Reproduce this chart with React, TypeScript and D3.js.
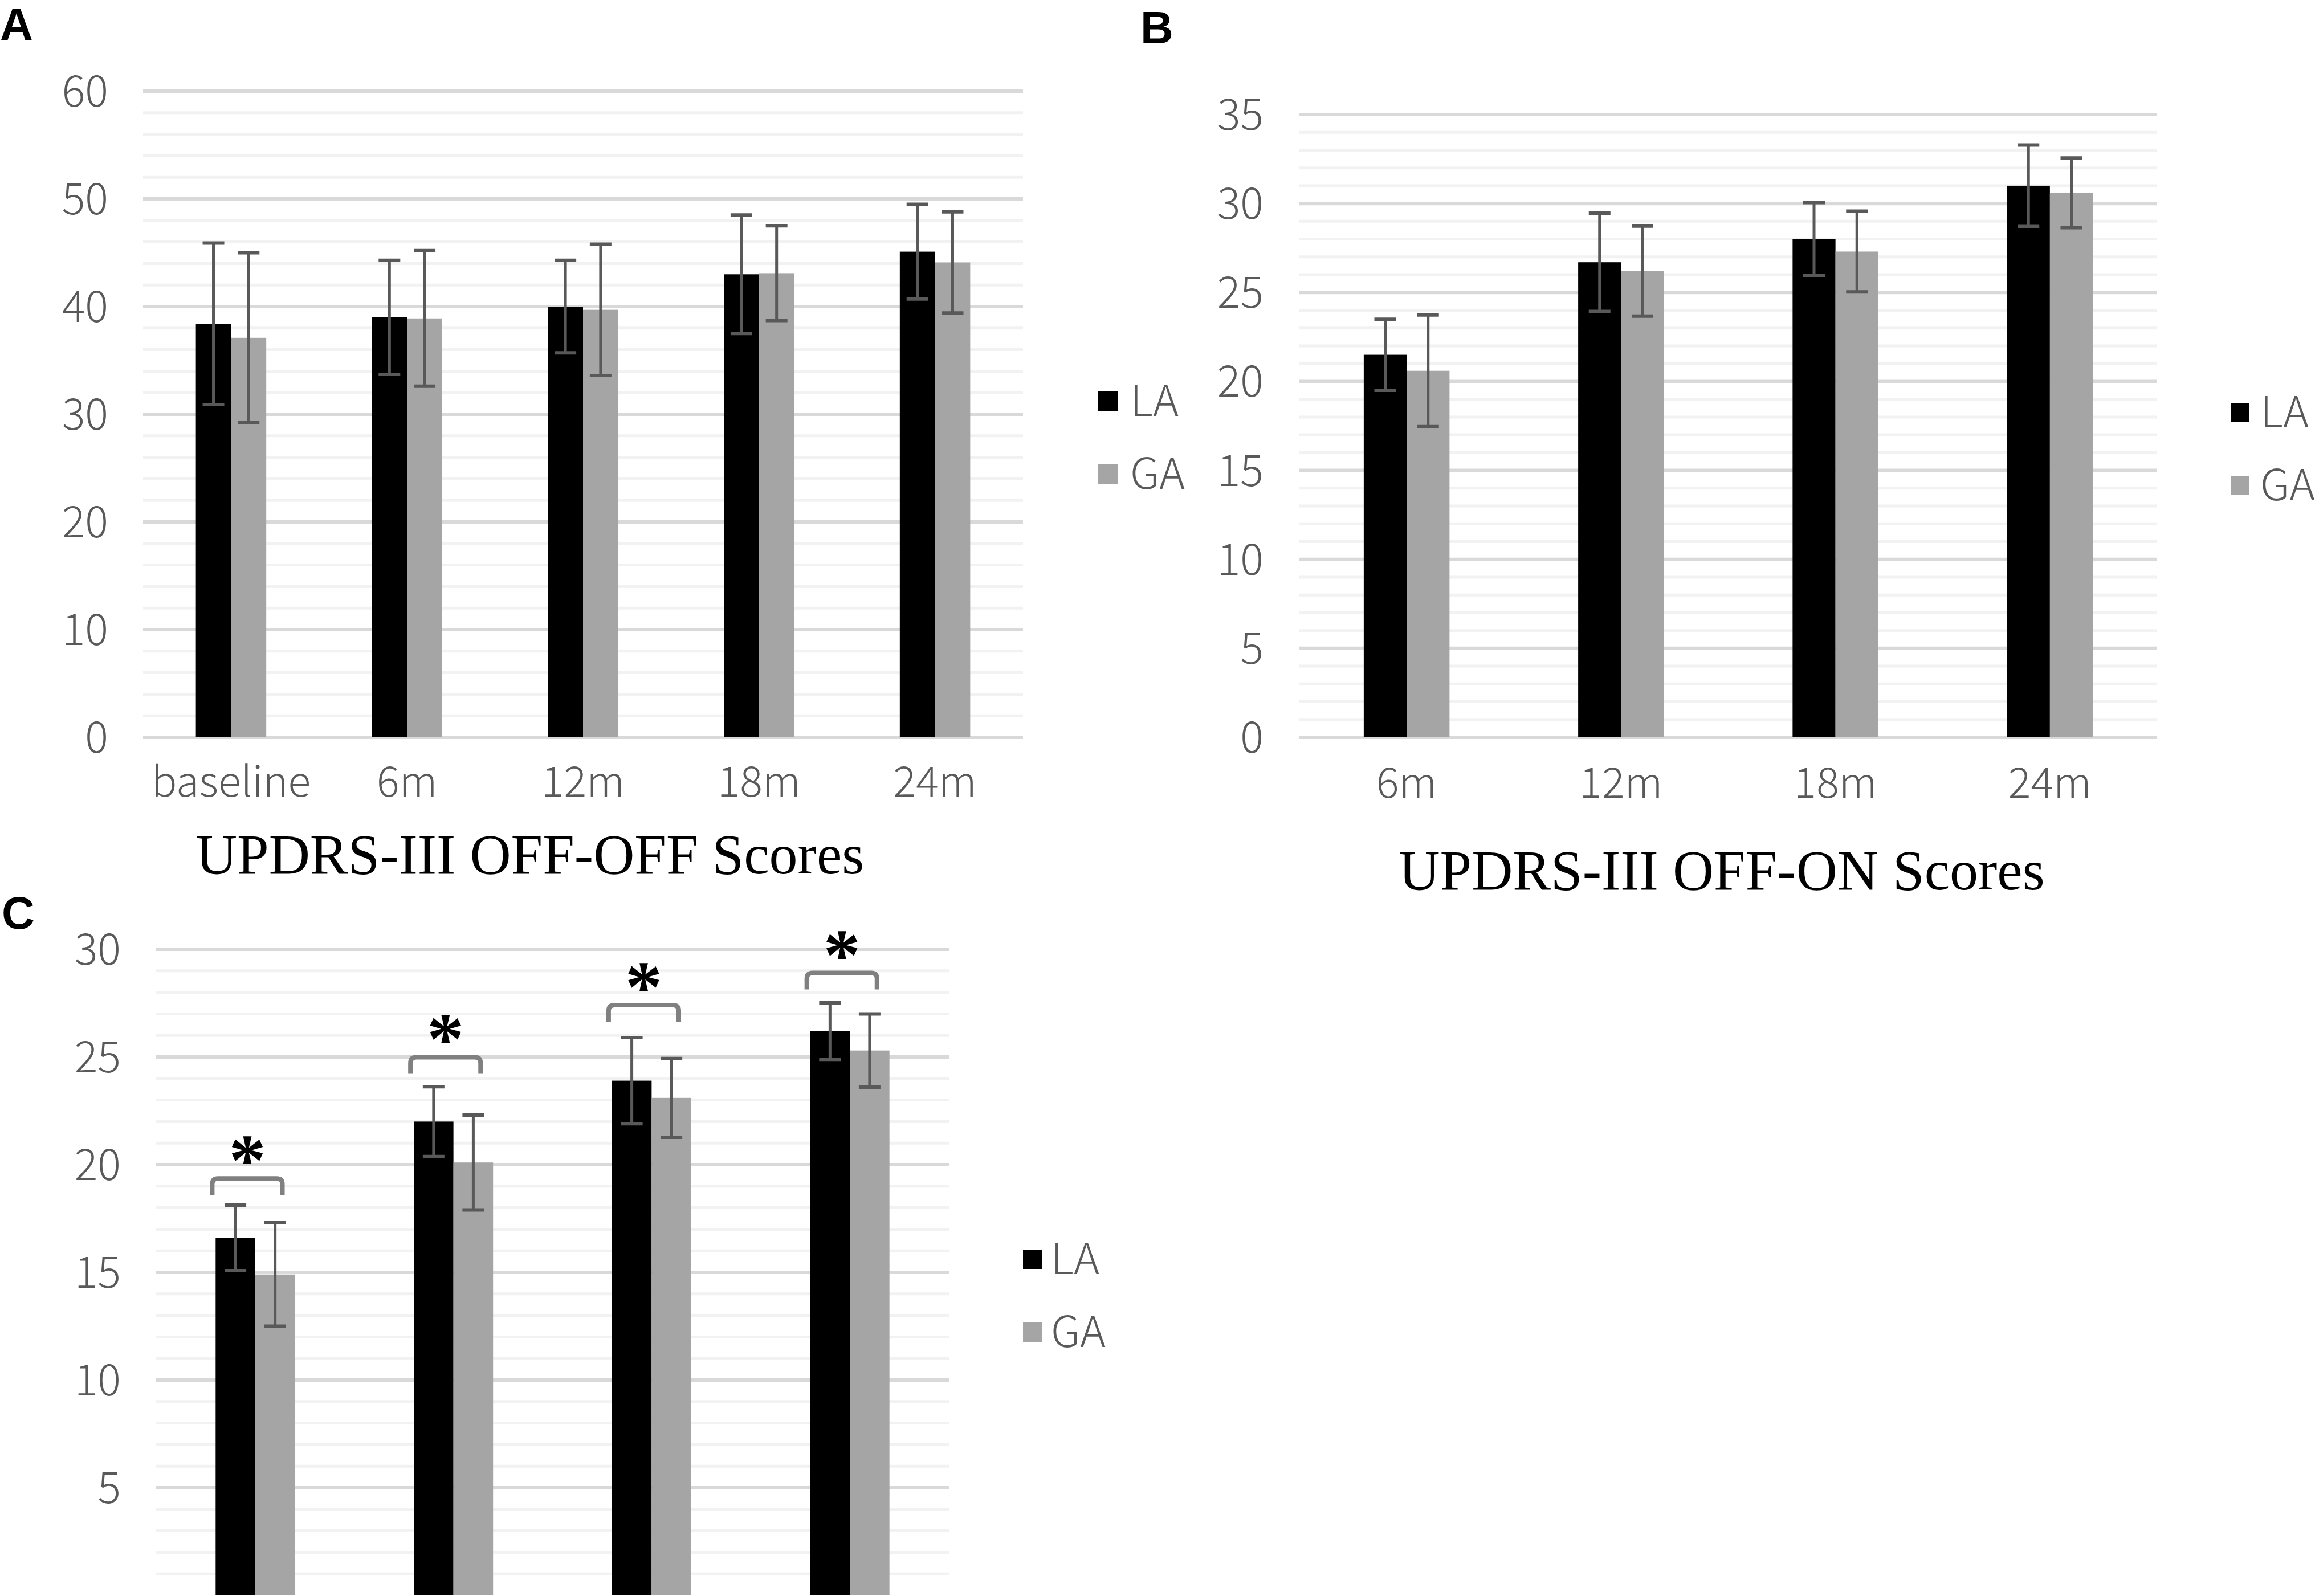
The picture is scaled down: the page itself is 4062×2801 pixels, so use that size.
import { useEffect, useRef } from "react";
import * as d3 from "d3";

const W = 4062;
const H = 2801;

// Panel A: UPDRS-III OFF-OFF
const offOffCats = ["baseline", "6m", "12m", "18m", "24m"];
const offOffLA = [38.4, 39.0, 40.0, 43.0, 45.1];
const offOffLASd = [7.5, 5.3, 4.3, 5.5, 4.4];
const offOffGA = [37.1, 38.9, 39.7, 43.1, 44.1];
const offOffGASd = [7.9, 6.3, 6.1, 4.4, 4.7];

// Panel B: UPDRS-III OFF-ON
const offOnCats = ["6m", "12m", "18m", "24m"];
const offOnLA = [21.5, 26.7, 28.0, 31.0];
const offOnLASd = [2.0, 2.76, 2.05, 2.29];
const offOnGA = [20.6, 26.2, 27.3, 30.6];
const offOnGASd = [3.14, 2.53, 2.27, 1.96];

// Panel C (x axis cut off at the bottom of the figure)
const cCats = ["6m", "12m", "18m", "24m"];
const cLA = [16.6, 22.0, 23.9, 26.2];
const cLASd = [1.52, 1.62, 2.0, 1.31];
const cGA = [14.9, 20.1, 23.1, 25.3];
const cGASd = [2.4, 2.2, 1.83, 1.7];
const cSigLevels = [19.36, 24.99, 27.41, 28.9];

const seriesNames = ["LA", "GA"];
const seriesColors = ["#000000", "#a5a5a5"];

const SANS = "'Noto Sans CJK SC', 'Noto Sans', sans-serif";
const SERIF = "'Liberation Serif', 'Times New Roman', serif";
const BOLD = "'Liberation Sans', Arial, sans-serif";
const TEXT_GRAY = "#595959";

interface PanelCfg {
  label: string;
  labelX: number;
  labelY: number;
  cats: string[];
  values: number[][];
  sds: number[][];
  yMax: number;
  major: number;
  minor: number;
  tickMin: number;
  x0: number;
  x1: number;
  yTop: number;
  yBottom: number;
  tickRight: number;
  xLabels: boolean;
  xLabelY: number;
  title?: string;
  titleX?: number;
  titleY?: number;
  legendX: number;
  legendSize: number;
  legendYs: number[];
  legendGap: number;
  sig?: number[];
}

const panels: PanelCfg[] = [
  {
    label: "A",
    labelX: 0,
    labelY: 70,
    cats: offOffCats,
    values: [offOffLA, offOffGA],
    sds: [offOffLASd, offOffGASd],
    yMax: 60,
    major: 10,
    minor: 2,
    tickMin: 0,
    x0: 251,
    x1: 1795,
    yTop: 160,
    yBottom: 1294,
    tickRight: 190,
    xLabels: true,
    xLabelY: 1398,
    title: "UPDRS-III OFF-OFF Scores",
    titleX: 930,
    titleY: 1533,
    legendX: 1927,
    legendSize: 35,
    legendYs: [704, 832],
    legendGap: 21,
  },
  {
    label: "B",
    labelX: 2001,
    labelY: 76,
    cats: offOnCats,
    values: [offOnLA, offOnGA],
    sds: [offOnLASd, offOnGASd],
    yMax: 35,
    major: 5,
    minor: 1,
    tickMin: 0,
    x0: 2280,
    x1: 3785,
    yTop: 201,
    yBottom: 1294,
    tickRight: 2217,
    xLabels: true,
    xLabelY: 1400,
    title: "UPDRS-III OFF-ON Scores",
    titleX: 3021,
    titleY: 1561,
    legendX: 3914,
    legendSize: 33,
    legendYs: [724, 852],
    legendGap: 19,
  },
  {
    label: "C",
    labelX: 3,
    labelY: 1630,
    cats: cCats,
    values: [cLA, cGA],
    sds: [cLASd, cGASd],
    yMax: 30,
    major: 5,
    minor: 1,
    tickMin: 5,
    x0: 274,
    x1: 1665,
    yTop: 1666,
    yBottom: 2800,
    tickRight: 212,
    xLabels: false,
    xLabelY: 0,
    legendX: 1795,
    legendSize: 34,
    legendYs: [2210, 2338],
    legendGap: 15,
    sig: cSigLevels,
  },
];

function drawPanel(svg: d3.Selection<SVGSVGElement, unknown, null, undefined>, p: PanelCfg) {
  const g = svg.append("g");
  const y = d3.scaleLinear().domain([0, p.yMax]).range([p.yBottom, p.yTop]);
  const x = d3.scaleBand<string>().domain(p.cats).range([p.x0, p.x1]).padding(0);
  const bw = x.bandwidth();
  const xs = d3
    .scaleBand<string>()
    .domain(seriesNames)
    .range([bw * 0.3, bw * 0.7])
    .padding(0);

  // gridlines
  const minors = d3
    .range(p.minor, p.yMax + 0.001, p.minor)
    .filter((v) => Math.abs(v % p.major) > 1e-6);
  const majors = d3.range(0, p.yMax + 0.001, p.major).filter((v) => v >= p.tickMin);
  g.selectAll(".minor")
    .data(minors)
    .enter()
    .append("line")
    .attr("x1", p.x0)
    .attr("x2", p.x1)
    .attr("y1", (d) => y(d))
    .attr("y2", (d) => y(d))
    .attr("stroke", "#f2f2f2")
    .attr("stroke-width", 5);
  g.selectAll(".major")
    .data(majors)
    .enter()
    .append("line")
    .attr("x1", p.x0)
    .attr("x2", p.x1)
    .attr("y1", (d) => y(d))
    .attr("y2", (d) => y(d))
    .attr("stroke", "#d9d9d9")
    .attr("stroke-width", 6);

  // tick labels
  g.selectAll(".tick")
    .data(majors)
    .enter()
    .append("text")
    .attr("x", p.tickRight)
    .attr("y", (d) => y(d) + 27)
    .attr("text-anchor", "end")
    .attr("font-family", SANS)
    .attr("font-weight", 300)
    .attr("font-size", 76)
    .attr("fill", TEXT_GRAY)
    .text((d) => String(d));

  // bars + error bars
  seriesNames.forEach((s, si) => {
    const vals = p.values[si];
    const sds = p.sds[si];
    const data = p.cats.map((c, i) => ({ c, v: vals[i], sd: sds[i] }));
    g.selectAll(".bar-" + s)
      .data(data)
      .enter()
      .append("rect")
      .attr("x", (d) => (x(d.c) ?? 0) + (xs(s) ?? 0))
      .attr("y", (d) => y(d.v))
      .attr("width", xs.bandwidth())
      .attr("height", (d) => y(0) - y(d.v))
      .attr("fill", seriesColors[si]);

    const eg = g
      .selectAll(".err-" + s)
      .data(data)
      .enter()
      .append("g")
      .attr(
        "transform",
        (d) => `translate(${(x(d.c) ?? 0) + (xs(s) ?? 0) + xs.bandwidth() / 2},0)`
      );
    eg.append("line")
      .attr("x1", 0)
      .attr("x2", 0)
      .attr("y1", (d) => y(d.v + d.sd))
      .attr("y2", (d) => y(d.v - d.sd))
      .attr("stroke", "#595959")
      .attr("stroke-width", 5);
    [1, -1].forEach((sign) => {
      eg.append("line")
        .attr("x1", -19)
        .attr("x2", 19)
        .attr("y1", (d) => y(d.v + sign * d.sd))
        .attr("y2", (d) => y(d.v + sign * d.sd))
        .attr("stroke", "#595959")
        .attr("stroke-width", 6);
    });
  });

  // significance brackets
  if (p.sig) {
    const sigData = p.cats.map((c, i) => ({ c, v: p.sig![i] }));
    const drop = 29;
    const r = 10;
    sigData.forEach((d) => {
      const cx = (x(d.c) ?? 0) + bw / 2 - bw * 0.04;
      const half = bw * 0.177;
      const yt = y(d.v);
      const path = d3.path();
      path.moveTo(cx - half, yt + drop);
      path.lineTo(cx - half, yt + r);
      path.quadraticCurveTo(cx - half, yt, cx - half + r, yt);
      path.lineTo(cx + half - r, yt);
      path.quadraticCurveTo(cx + half, yt, cx + half, yt + r);
      path.lineTo(cx + half, yt + drop);
      g.append("path")
        .attr("d", path.toString())
        .attr("fill", "none")
        .attr("stroke", "#808080")
        .attr("stroke-width", 8);
      g.append("text")
        .attr("x", cx)
        .attr("y", yt + 12)
        .attr("text-anchor", "middle")
        .attr("font-family", SERIF)
        .attr("font-weight", "bold")
        .attr("font-size", 130)
        .attr("fill", "#000")
        .text("*");
    });
  }

  // category labels
  if (p.xLabels) {
    g.selectAll(".xl")
      .data(p.cats)
      .enter()
      .append("text")
      .attr("x", (d) => (x(d) ?? 0) + bw / 2)
      .attr("y", p.xLabelY)
      .attr("text-anchor", "middle")
      .attr("font-family", SANS)
      .attr("font-weight", 300)
      .attr("font-size", 74)
      .attr("fill", TEXT_GRAY)
      .text((d) => d);
  }

  // legend
  seriesNames.forEach((s, si) => {
    const cy = p.legendYs[si];
    g.append("rect")
      .attr("x", p.legendX)
      .attr("y", cy - p.legendSize / 2)
      .attr("width", p.legendSize)
      .attr("height", p.legendSize)
      .attr("fill", seriesColors[si]);
    g.append("text")
      .attr("x", p.legendX + p.legendSize + p.legendGap)
      .attr("y", cy + 26)
      .attr("font-family", SANS)
      .attr("font-weight", 300)
      .attr("font-size", 76)
      .attr("fill", TEXT_GRAY)
      .text(s);
  });

  // title
  if (p.title) {
    g.append("text")
      .attr("x", p.titleX!)
      .attr("y", p.titleY!)
      .attr("text-anchor", "middle")
      .attr("font-family", SERIF)
      .attr("font-size", 100)
      .attr("fill", "#000")
      .text(p.title);
  }

  // panel letter
  g.append("text")
    .attr("x", p.labelX)
    .attr("y", p.labelY)
    .attr("font-family", BOLD)
    .attr("font-weight", "bold")
    .attr("font-size", 80)
    .attr("fill", "#000")
    .text(p.label);
}

export default function App() {
  const svgRef = useRef<SVGSVGElement>(null);

  useEffect(() => {
    if (!svgRef.current) return;
    const svg = d3.select(svgRef.current);
    svg.selectAll("*").remove();
    svg.append("rect").attr("width", W).attr("height", H).attr("fill", "#fff");
    panels.forEach((p) => drawPanel(svg, p));
  }, []);

  return (
    <svg
      ref={svgRef}
      width={W}
      height={H}
      style={{ position: "absolute", left: 0, top: 0, display: "block" }}
    />
  );
}
